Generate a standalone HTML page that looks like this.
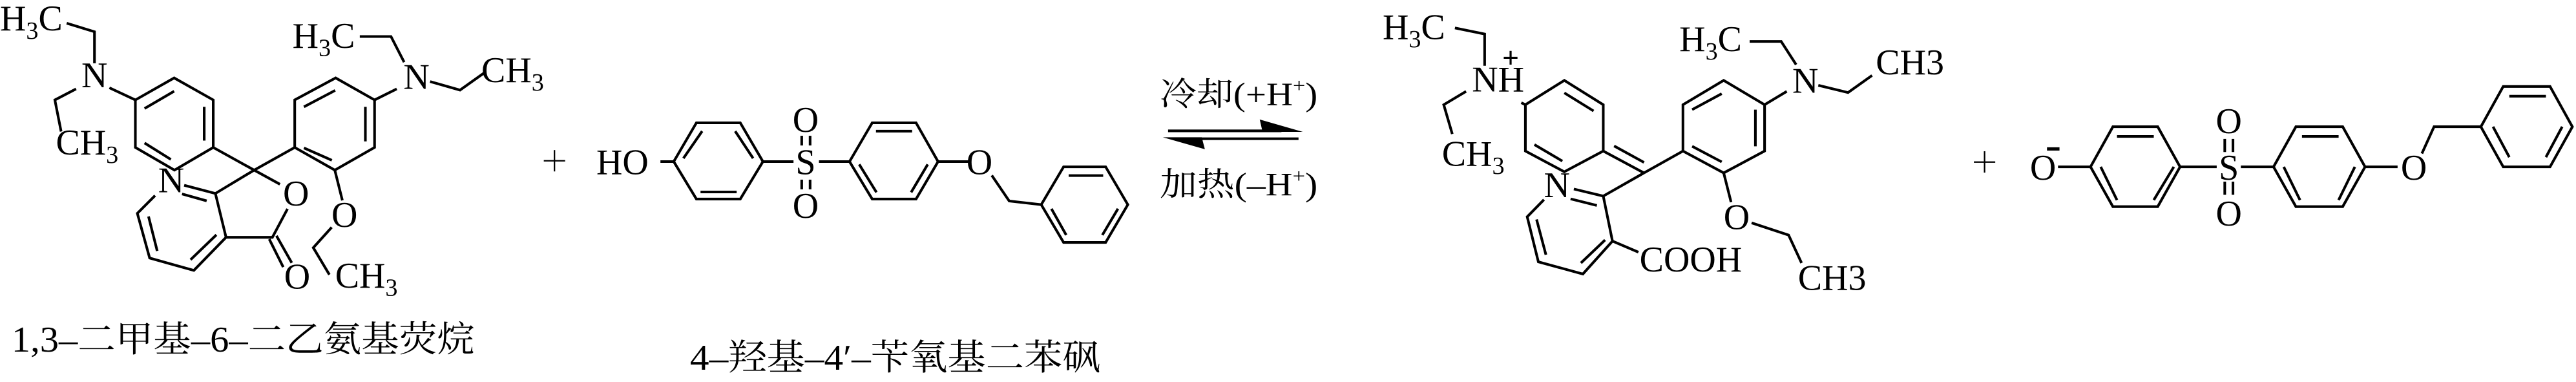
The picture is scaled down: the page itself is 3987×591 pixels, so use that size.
<!DOCTYPE html>
<html><head><meta charset="utf-8"><style>
html,body{margin:0;padding:0;background:#fff;width:3987px;height:591px;overflow:hidden}
svg{display:block}
text{font-family:"Liberation Serif","Noto Serif CJK SC","Noto Sans CJK SC",serif;fill:#000}
</style></head><body>
<svg width="3987" height="591" viewBox="0 0 1568 232.4" xmlns="http://www.w3.org/2000/svg">
<g fill="none" stroke="#000" stroke-width="1.6" stroke-linecap="butt" stroke-linejoin="miter">
<!-- Molecule 1 -->
<polygon points="106,47.4 129.8,60.8 129.8,89.7 106.2,103.5 82.4,89.7 82.4,60.8"/>
<line x1="88" y1="66" x2="106" y2="55.5"/><line x1="124.3" y1="65" x2="124.3" y2="85.5"/><line x1="88" y1="87" x2="104" y2="97"/>
<polygon points="204.3,47.4 228,60.8 228,89.7 203.8,103.5 179.4,89.7 179.4,60.8"/>
<line x1="185" y1="65" x2="204" y2="55"/><line x1="222.4" y1="65" x2="222.4" y2="86"/><line x1="185" y1="90" x2="202" y2="97.5"/>
<polyline points="129.8,89.7 154.7,103.5 170.4,112.1"/>
<polyline points="179.4,89.7 154.7,103.5 131.1,117.7"/>
<line x1="112.1" y1="112.7" x2="131.1" y2="117.7"/><line x1="110.8" y1="118" x2="125.8" y2="122.2"/>
<polyline points="131.1,117.7 137.6,144.4 165.8,144.4 175,127.1"/>
<polyline points="94.4,119 83.6,129.8 91.1,157 118,164.5 137.6,144.4"/>
<line x1="90.4" y1="131.7" x2="95.7" y2="152.7"/><line x1="116" y1="158" x2="131.7" y2="142.9"/>
<line x1="163.9" y1="145.5" x2="172.4" y2="162.5"/><line x1="168.3" y1="143.5" x2="177.6" y2="159.9"/>
<line x1="66.6" y1="53.4" x2="82.4" y2="60.8"/>
<polyline points="57.5,38.5 57.5,19.3 40.6,14.1"/>
<polyline points="46.3,54.1 33.4,60.8 37.2,80"/>
<line x1="228" y1="60.8" x2="241.5" y2="54.1"/>
<polyline points="246,37.8 238,22.2 219,22.2"/>
<polyline points="261.8,49.6 280,54.8 294.5,44.5"/>
<line x1="203.8" y1="103.5" x2="208.4" y2="121.9"/>
<polyline points="201.9,138.3 190.7,150.7 200.5,167.1"/>
<line x1="331" y1="97.8" x2="344" y2="97.8" stroke-width="0.9"/><line x1="337.5" y1="91.3" x2="337.5" y2="104.3" stroke-width="0.9"/>
<!-- Molecule 2 -->
<line x1="402" y1="98.3" x2="410.1" y2="98.3"/>
<polygon points="410.1,98.3 423.9,74.7 450.6,74.7 464.4,98.3 450.6,121.1 423.9,121.1"/>
<line x1="416" y1="96.3" x2="427.4" y2="79.8"/><line x1="447.5" y1="79.8" x2="458.4" y2="96.3"/><line x1="426.4" y1="116.8" x2="448.4" y2="116.8"/>
<line x1="464.4" y1="98.3" x2="483" y2="98.3"/><line x1="498.5" y1="98.3" x2="517.1" y2="98.3"/>
<line x1="488" y1="82.6" x2="488" y2="88.5"/><line x1="493.1" y1="82.6" x2="493.1" y2="88.5"/>
<line x1="488" y1="109.3" x2="488" y2="115.2"/><line x1="493.1" y1="109.3" x2="493.1" y2="115.2"/>
<polygon points="517.1,98.3 530.9,74.7 557.6,74.7 571,98.3 557.6,121.1 530.9,121.1"/>
<line x1="533.2" y1="79.8" x2="555.2" y2="79.8"/><line x1="523" y1="100" x2="533.5" y2="117"/><line x1="564.7" y1="100" x2="554.6" y2="117"/>
<line x1="571" y1="98.3" x2="589.8" y2="98.3"/>
<polyline points="603.7,106.7 614.3,122.3 633.8,124.5"/>
<polygon points="647.4,101.5 673,101.5 686.5,124.5 673,147.5 647.4,147.5 633.8,124.5"/>
<line x1="650.5" y1="106.8" x2="671.5" y2="106.8"/><line x1="640" y1="127" x2="649" y2="143"/><line x1="680.5" y1="127" x2="671" y2="143"/>
<!-- arrow -->
<line x1="711" y1="79.6" x2="780" y2="79.6"/>
<polygon points="766.8,72.7 793,80.2 768.5,80.2" fill="#000" stroke="none"/>
<line x1="718" y1="84.4" x2="790.4" y2="84.4"/>
<polygon points="707.8,83.5 733.4,90.8 731.5,83.5" fill="#000" stroke="none"/>
<!-- Molecule 3 -->
<polyline points="885.6,17 903.7,20.7 903.7,40"/>
<polyline points="892.4,55.6 878.8,63.7 884,81.5"/>
<polygon points="952.2,48.9 975.9,63.7 975.9,91.9 952.2,104.5 928.5,91.9 928.5,63.7"/>
<line x1="926" y1="62.5" x2="928.5" y2="63.7"/>
<line x1="952.2" y1="56.5" x2="970" y2="67.5"/><line x1="934" y1="88" x2="951" y2="98"/>
<line x1="975.9" y1="91.9" x2="1000.7" y2="105.2"/><line x1="982.5" y1="88.8" x2="1000.7" y2="98.8"/>
<line x1="1000.7" y1="105.2" x2="1024.4" y2="91.9"/>
<line x1="1000.7" y1="105.2" x2="975.9" y2="119.3"/>
<line x1="958" y1="115" x2="975.9" y2="119.3"/><line x1="956" y1="121" x2="972" y2="125"/>
<polyline points="939.8,121.5 929.6,131.9 936.4,159.3 963.5,166.7 981.5,146.7 975.9,119.3"/>
<line x1="935.3" y1="133.5" x2="941" y2="155"/><line x1="962.3" y1="160" x2="977" y2="146"/>
<line x1="981.5" y1="146.7" x2="997.3" y2="153.4"/>
<polygon points="1049.2,48.9 1074.1,63.7 1074.1,91.9 1049.2,105.2 1024.4,91.9 1024.4,63.7"/>
<line x1="1030" y1="66.7" x2="1048" y2="57"/><line x1="1068.5" y1="66.7" x2="1068.5" y2="89"/><line x1="1030" y1="89" x2="1048" y2="98.5"/>
<line x1="1074.1" y1="63.7" x2="1087.6" y2="55.6"/>
<polyline points="1093.3,39.3 1084.2,25.2 1065,25.2"/>
<polyline points="1106.8,51.9 1124.9,56.3 1139.5,45.9"/>
<line x1="1049.2" y1="105.2" x2="1053.7" y2="123"/>
<polyline points="1066.2,135.6 1088.7,143 1096.6,160"/>
<line x1="1201.5" y1="98.6" x2="1214.5" y2="98.6" stroke-width="0.9"/><line x1="1208" y1="92" x2="1208" y2="105" stroke-width="0.9"/>
<!-- Molecule 4 -->
<line x1="1252.7" y1="101.5" x2="1272.5" y2="101.5"/>
<polygon points="1286.1,77.1 1313.4,77.1 1327,101.5 1313.4,125.7 1286.1,125.7 1272.5,101.5"/>
<line x1="1288.6" y1="83" x2="1311" y2="83"/><line x1="1278.7" y1="101.5" x2="1288.6" y2="121.7"/><line x1="1323.2" y1="101.5" x2="1311" y2="121.7"/>
<line x1="1327" y1="101.5" x2="1349.3" y2="101.5"/><line x1="1364" y1="101.5" x2="1383.9" y2="101.5"/>
<line x1="1354.2" y1="84.5" x2="1354.2" y2="92.5"/><line x1="1359.2" y1="84.5" x2="1359.2" y2="92.5"/>
<line x1="1354.2" y1="110.5" x2="1354.2" y2="118.5"/><line x1="1359.2" y1="110.5" x2="1359.2" y2="118.5"/>
<polygon points="1397.5,77.1 1426,77.1 1439.6,101.5 1426,125.7 1397.5,125.7 1383.9,101.5"/>
<line x1="1401.2" y1="83" x2="1423.5" y2="83"/><line x1="1390.1" y1="101.5" x2="1400" y2="121.7"/><line x1="1433.4" y1="101.5" x2="1423.5" y2="121.7"/>
<line x1="1439.6" y1="101.5" x2="1459.4" y2="101.5"/>
<polyline points="1474.2,93.4 1481.6,77.1 1510.1,77.1"/>
<polygon points="1510.1,77.1 1523.7,52.6 1552.2,52.6 1565.8,77.1 1552.2,101.5 1523.7,101.5"/>
<line x1="1527.4" y1="58.5" x2="1549.7" y2="58.5"/><line x1="1517.5" y1="77.1" x2="1527.4" y2="95.6"/><line x1="1559.6" y1="77.1" x2="1549.7" y2="95.6"/>
</g>
<g font-size="22">
<!-- Molecule 1 text -->
<text x="0" y="18.5">H<tspan font-size="15" dy="5">3</tspan><tspan dy="-5">C</tspan></text>
<text x="57.5" y="53" text-anchor="middle">N</text>
<text x="34" y="94">CH<tspan font-size="15" dy="5">3</tspan></text>
<text x="104.2" y="117" text-anchor="middle">N</text>
<text x="180.2" y="125" text-anchor="middle">O</text>
<text x="180.9" y="175.5" text-anchor="middle">O</text>
<text x="178" y="29">H<tspan font-size="15" dy="5">3</tspan><tspan dy="-5">C</tspan></text>
<text x="253.5" y="54" text-anchor="middle">N</text>
<text x="293" y="50">CH<tspan font-size="15" dy="5">3</tspan></text>
<text x="209.7" y="138" text-anchor="middle">O</text>
<text x="204" y="175">CH<tspan font-size="15" dy="5">3</tspan></text>
<!-- Molecule 2 text -->
<text x="363" y="106">HO</text>
<text x="490.4" y="106" text-anchor="middle">S</text>
<text x="490.4" y="80.3" text-anchor="middle">O</text>
<text x="490.4" y="132.6" text-anchor="middle">O</text>
<text x="596.2" y="106" text-anchor="middle">O</text>
<!-- Molecule 3 text -->
<text x="841.6" y="23.7">H<tspan font-size="15" dy="5">3</tspan><tspan dy="-5">C</tspan></text>
<text x="896" y="55.6">NH</text>
<text x="919.5" y="41" font-size="18" font-weight="bold" text-anchor="middle">+</text>
<text x="877.7" y="100.8">CH<tspan font-size="15" dy="5">3</tspan></text>
<text x="947.7" y="120" text-anchor="middle">N</text>
<text x="998" y="165.2">COOH</text>
<text x="1022.2" y="31.1">H<tspan font-size="15" dy="5">3</tspan><tspan dy="-5">C</tspan></text>
<text x="1098.9" y="56.5" text-anchor="middle">N</text>
<text x="1141.8" y="45.2">CH<tspan font-size="22" dy="0">3</tspan></text>
<text x="1057.1" y="139.5" text-anchor="middle">O</text>
<text x="1094.4" y="176.4">CH<tspan font-size="22">3</tspan></text>
<!-- Molecule 4 text -->
<text x="1243.6" y="109.3" text-anchor="middle">O</text>
<text x="1356.7" y="109.3" text-anchor="middle">S</text>
<text x="1356.7" y="81" text-anchor="middle">O</text>
<text x="1356.7" y="137.3" text-anchor="middle">O</text>
<text x="1469.3" y="109.3" text-anchor="middle">O</text>
</g>
<rect x="1246" y="89.6" width="7.6" height="2" fill="#000"/>
<!-- arrow labels -->
<text x="706" y="64" font-size="20" textLength="96" lengthAdjust="spacingAndGlyphs">冷却(+H<tspan font-size="12" dy="-8">+</tspan><tspan dy="8">)</tspan></text>
<text x="706" y="119" font-size="20" textLength="96" lengthAdjust="spacingAndGlyphs">加热(–H<tspan font-size="12" dy="-8">+</tspan><tspan dy="8">)</tspan></text>
<!-- captions -->
<text x="7" y="214" font-size="22" textLength="282" lengthAdjust="spacingAndGlyphs">1,3–二甲基–6–二乙氨基荧烷</text>
<text x="420" y="225" font-size="22" textLength="250" lengthAdjust="spacingAndGlyphs">4–羟基–4′–苄氧基二苯砜</text>
</svg>
</body></html>
